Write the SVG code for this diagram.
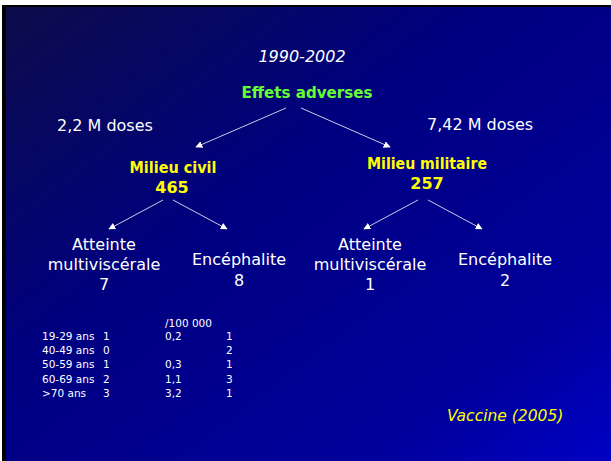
<svg xmlns="http://www.w3.org/2000/svg" width="611" height="461" viewBox="0 0 611 461">
<style>
text{font-family:"DejaVu Sans","Liberation Sans",sans-serif;}
.w{fill:#ffffff;font-size:16px;}
.c{text-anchor:middle;}
.y{fill:#ffff00;font-weight:bold;font-size:16px;text-anchor:middle;}
.t{fill:#ffffff;font-size:10.5px;}
.cn{stroke:#ffffff;stroke-width:0.8;fill:none;marker-end:url(#ah);}
</style>
<defs>
<linearGradient id="bg" x1="0" y1="0" x2="1" y2="1">
<stop offset="0" stop-color="#0c0c4a"/>
<stop offset="0.4" stop-color="#000080"/>
<stop offset="0.8" stop-color="#00009c"/>
<stop offset="1" stop-color="#0000c4"/>
</linearGradient>
<marker id="ah" viewBox="0 0 10 10" refX="9" refY="5" markerWidth="7" markerHeight="7" markerUnits="userSpaceOnUse" orient="auto">
<path d="M0,0 L10,5 L0,10 z" fill="#ffffff"/>
</marker>
</defs>
<rect x="0" y="0" width="611" height="461" fill="#ffffff"/>
<rect x="2" y="5" width="609" height="456" fill="#000000"/>
<rect x="6" y="7" width="605" height="454" fill="url(#bg)"/>

<g id="title"><text class="w c" x="302" y="62" font-style="italic">1990-2002</text></g>
<g id="root"><text x="307" y="98" fill="#66ff33" font-weight="bold" font-size="16px" text-anchor="middle" textLength="131" lengthAdjust="spacingAndGlyphs">Effets adverses</text></g>
<g id="dose-civil"><text class="w" x="57" y="131">2,2 M doses</text></g>
<g id="dose-mil"><text class="w" x="427" y="130">7,42 M doses</text></g>

<g id="civil"><text class="y" x="173" y="173" textLength="87" lengthAdjust="spacingAndGlyphs">Milieu civil</text><text class="y" x="172" y="193">465</text></g>
<g id="militaire"><text class="y" x="427" y="169" textLength="120" lengthAdjust="spacingAndGlyphs">Milieu militaire</text><text class="y" x="427" y="189">257</text></g>

<g id="civil-atteinte"><text class="w c" x="104" y="250">Atteinte</text><text class="w c" x="104" y="270">multiviscérale</text><text class="w c" x="104" y="290">7</text></g>
<g id="civil-enceph"><text class="w c" x="239" y="265">Encéphalite</text><text class="w c" x="239" y="286">8</text></g>
<g id="mil-atteinte"><text class="w c" x="370" y="250">Atteinte</text><text class="w c" x="370" y="270">multiviscérale</text><text class="w c" x="370" y="290">1</text></g>
<g id="mil-enceph"><text class="w c" x="505" y="265">Encéphalite</text><text class="w c" x="505" y="286">2</text></g>

<g id="connectors">
<line class="cn" x1="286" y1="108" x2="196" y2="147"/>
<line class="cn" x1="301" y1="108" x2="390" y2="147"/>
<line class="cn" x1="163" y1="200" x2="109" y2="229"/>
<line class="cn" x1="173" y1="200" x2="227" y2="229"/>
<line class="cn" x1="418" y1="200" x2="364" y2="229"/>
<line class="cn" x1="428" y1="200" x2="482" y2="229"/>
</g>

<g id="table">
<text class="t" x="165" y="327">/100 000</text>
<text class="t" x="42" y="340">19-29 ans</text><text class="t" x="103" y="340">1</text><text class="t" x="165" y="340">0,2</text><text class="t" x="226" y="340">1</text>
<text class="t" x="42" y="354">40-49 ans</text><text class="t" x="103" y="354">0</text><text class="t" x="226" y="354">2</text>
<text class="t" x="42" y="368">50-59 ans</text><text class="t" x="103" y="368">1</text><text class="t" x="165" y="368">0,3</text><text class="t" x="226" y="368">1</text>
<text class="t" x="42" y="383">60-69 ans</text><text class="t" x="103" y="383">2</text><text class="t" x="165" y="383">1,1</text><text class="t" x="226" y="383">3</text>
<text class="t" x="42" y="397">&gt;70 ans</text><text class="t" x="103" y="397">3</text><text class="t" x="165" y="397">3,2</text><text class="t" x="226" y="397">1</text>
</g>

<g id="source"><text x="447" y="421" fill="#ffff00" font-style="italic" font-size="15.5px">Vaccine (2005)</text></g>
</svg>
